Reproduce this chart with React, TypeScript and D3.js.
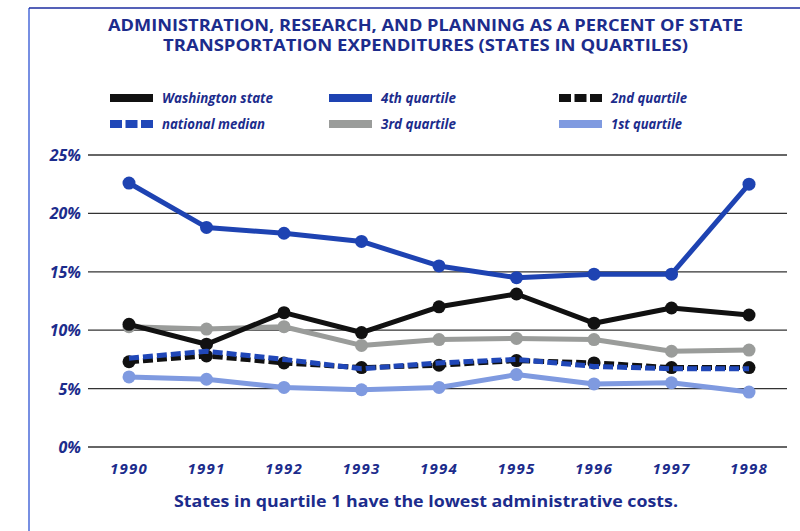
import { useMemo } from "react";
import * as d3 from "d3";

const WIDTH = 800;
const HEIGHT = 531;
const MARGIN = { top: 155, right: 13, bottom: 84, left: 88 };

const NAVY = "#1c2c8c";
const FONT = "'Open Sans', Lato, sans-serif";

const years = [1990, 1991, 1992, 1993, 1994, 1995, 1996, 1997, 1998];
const yTicks = [0, 5, 10, 15, 20, 25];

const washington = [10.5, 8.8, 11.5, 9.8, 12.0, 13.1, 10.6, 11.9, 11.3];
const quartile4 = [22.6, 18.8, 18.3, 17.6, 15.5, 14.5, 14.8, 14.8, 22.5];
const quartile3 = [10.3, 10.1, 10.3, 8.7, 9.2, 9.3, 9.2, 8.2, 8.3];
const quartile2 = [7.3, 7.8, 7.2, 6.8, 7.0, 7.4, 7.2, 6.8, 6.8];
const nationalMedian = [7.6, 8.2, 7.5, 6.7, 7.2, 7.5, 6.9, 6.7, 6.7];
const quartile1 = [6.0, 5.8, 5.1, 4.9, 5.1, 6.2, 5.4, 5.5, 4.7];

type Series = {
  name: string;
  values: number[];
  color: string;
  dash?: string;
  markers: boolean;
};

// drawing order matters: later ones sit on top
const series: Series[] = [
  { name: "1st quartile", values: quartile1, color: "#7f9ae0", markers: true },
  { name: "3rd quartile", values: quartile3, color: "#9a9c9a", markers: true },
  { name: "Washington state", values: washington, color: "#111111", markers: true },
  { name: "4th quartile", values: quartile4, color: "#1e43b2", markers: true },
  { name: "2nd quartile", values: quartile2, color: "#111111", dash: "10,4", markers: true },
  { name: "national median", values: nationalMedian, color: "#2047b8", dash: "10,4", markers: false },
];

const legendRows = [
  ["Washington state", "4th quartile", "2nd quartile"],
  ["national median", "3rd quartile", "1st quartile"],
];
const legendCols = [110, 329, 559];
// rough label widths so the fallback font spans like the original
const legendWidths: Record<string, number> = {
  "Washington state": 111,
  "national median": 103,
  "4th quartile": 75,
  "3rd quartile": 75,
  "2nd quartile": 76,
  "1st quartile": 71,
};

export default function App() {
  const boundsWidth = WIDTH - MARGIN.left - MARGIN.right;
  const boundsHeight = HEIGHT - MARGIN.top - MARGIN.bottom;

  const xScale = useMemo(
    () => d3.scalePoint<number>().domain(years).range([41, 661]),
    []
  );
  const yScale = useMemo(
    () => d3.scaleLinear().domain([0, 25]).range([boundsHeight, 0]),
    [boundsHeight]
  );

  const lineGen = d3
    .line<number>()
    .x((_, i) => xScale(years[i])!)
    .y((d) => yScale(d));

  const byName = (n: string) => series.find((s) => s.name === n)!;

  return (
    <div style={{ position: "absolute", left: 0, top: 0 }}>
      <svg width={WIDTH} height={HEIGHT} style={{ display: "block", background: "#fff" }}>
        {/* frame */}
        <line x1={29} x2={29} y1={8} y2={HEIGHT} stroke="#4a6ad8" strokeWidth={1.5} />
        <line x1={29} x2={WIDTH} y1={8} y2={8} stroke="#1c2ca0" strokeWidth={1.5} />

        {/* title */}
        <text x={425.5} y={31} textAnchor="middle" fill={NAVY} fontFamily={FONT} fontWeight={700} fontSize={15.5} textLength={635} lengthAdjust="spacingAndGlyphs">
          ADMINISTRATION, RESEARCH, AND PLANNING AS A PERCENT OF STATE
        </text>
        <text x={425.5} y={51} textAnchor="middle" fill={NAVY} fontFamily={FONT} fontWeight={700} fontSize={15.5} textLength={525} lengthAdjust="spacingAndGlyphs">
          TRANSPORTATION EXPENDITURES (STATES IN QUARTILES)
        </text>

        {/* legend */}
        {legendRows.map((row, r) =>
          row.map((name, c) => {
            const s = byName(name);
            const y = r === 0 ? 98 : 124;
            const x = legendCols[c];
            return (
              <g key={name}>
                {s.dash ? (
                  [0, 1, 2].map((k) => (
                    <rect key={k} x={x + k * 15.5} y={y - 4} width={12} height={8} fill={s.color} />
                  ))
                ) : (
                  <rect x={x} y={y - 4} width={43} height={8} fill={s.color} />
                )}
                <text
                  x={x + 52}
                  y={y + 5}
                  fill={NAVY}
                  fontFamily={FONT}
                  fontStyle="italic"
                  fontWeight={700}
                  fontSize={13.5}
                  textLength={legendWidths[name]}
                  lengthAdjust="spacingAndGlyphs"
                >
                  {name}
                </text>
              </g>
            );
          })
        )}

        <g transform={`translate(${MARGIN.left},${MARGIN.top})`}>
          {/* gridlines + y labels */}
          {yTicks.map((t) => (
            <g key={t} transform={`translate(0,${yScale(t)})`}>
              <line x1={0} x2={boundsWidth} stroke="#333" strokeWidth={1.3} />
              <text
                x={-7}
                y={6}
                textAnchor="end"
                fill={NAVY}
                fontFamily={FONT}
                fontStyle="italic"
                fontWeight={700}
                fontSize={16}
              >
                {t}%
              </text>
            </g>
          ))}

          {/* x labels */}
          {years.map((yr) => (
            <text
              key={yr}
              x={xScale(yr)}
              y={boundsHeight + 27}
              textAnchor="middle"
              fill={NAVY}
              fontFamily={FONT}
              fontStyle="italic"
              fontWeight={700}
              fontSize={15}
              letterSpacing={1.2}
            >
              {yr}
            </text>
          ))}

          {/* series */}
          {series.map((s) => (
            <g key={s.name}>
              <path
                d={lineGen(s.values) ?? ""}
                fill="none"
                stroke={s.color}
                strokeWidth={5}
                strokeDasharray={s.dash}
                strokeLinejoin="round"
              />
              {s.markers &&
                s.values.map((v, i) => (
                  <circle key={i} cx={xScale(years[i])} cy={yScale(v)} r={6.5} fill={s.color} />
                ))}
            </g>
          ))}
        </g>

        {/* caption */}
        <text x={426} y={507} textAnchor="middle" fill={NAVY} fontFamily={FONT} fontWeight={700} fontSize={16} textLength={504} lengthAdjust="spacingAndGlyphs">
          States in quartile 1 have the lowest administrative costs.
        </text>
      </svg>
    </div>
  );
}
